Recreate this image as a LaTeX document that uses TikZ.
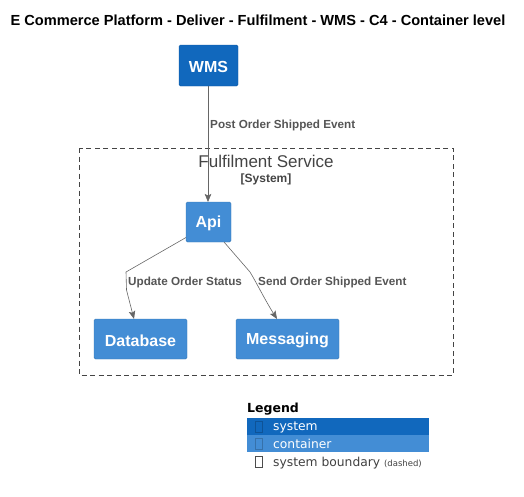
\documentclass[tikz,border=0pt]{standalone}
\usepackage{fontspec}
\setmainfont{Liberation Sans}
\newfontfamily\legfont{DejaVu Sans}
\usetikzlibrary{arrows.meta}
\definecolor{sysblue}{HTML}{1168BD}
\definecolor{contblue}{HTML}{438DD5}
\definecolor{edgegray}{HTML}{666666}
\definecolor{labgray}{HTML}{555555}
\definecolor{bndgray}{HTML}{444444}
\tikzset{
  sysbox/.style={fill=sysblue, draw=sysblue!85!black, line width=0.4pt, rounded corners=1.5pt},
  contbox/.style={fill=contblue, draw=contblue!85!black, line width=0.4pt, rounded corners=1.5pt},
  boxtext/.style={text=white, font=\bfseries\fontsize{16}{18}\selectfont, inner sep=0pt},
  rel/.style={draw=edgegray, line width=0.6pt, -{Stealth[length=8pt,width=6.5pt,inset=1.5pt]}},
  rellabel/.style={text=labgray, font=\bfseries\fontsize{11.7}{13}\selectfont, inner sep=0pt, anchor=west},
  legtext/.style={font=\legfont\fontsize{12.3}{14}\selectfont, inner sep=0pt, anchor=west},
}
\begin{document}
\begin{tikzpicture}[x=1pt,y=-1pt]
\useasboundingbox (0,0) rectangle (524,496);
% title
\node[font=\bfseries\fontsize{14.6}{16}\selectfont, inner sep=0pt] (title) at (258,20.5) {E Commerce Platform - Deliver - Fulfilment - WMS - C4 - Container level};
% boundary
\draw[bndgray, dashed, dash pattern=on 5pt off 3.5pt, line width=0.6pt] (79,148) rectangle (453,375);
\node[text=bndgray, font=\fontsize{17}{19}\selectfont, inner sep=0pt] (bname) at (266,161.5) {Fulfilment Service};
\node[text=bndgray, font=\bfseries\fontsize{12}{14}\selectfont, inner sep=0pt] (btype) at (266,179) {[System]};
% nodes
\path[sysbox] (179,45) rectangle (238,86);
\node[boxtext, minimum width=59pt, minimum height=41pt] (wms) at (208.5,67) {WMS};
\path[contbox] (186,202) rectangle (231,242);
\node[boxtext, minimum width=45pt, minimum height=40pt] (api) at (208.5,223.5) {Api};
\path[contbox] (94,319) rectangle (187,359);
\node[boxtext, minimum width=93pt, minimum height=40pt] (db) at (140.5,340.5) {Database};
\path[contbox] (236,319) rectangle (339,359);
\node[boxtext, minimum width=103pt, minimum height=40pt] (msg) at (287.5,340.5) {Messaging};
% edges
\coordinate (c1) at (126,272);
\coordinate (c2) at (126.5,290);
\coordinate (c3) at (250,272);
\coordinate (wmsb) at (208,86);
\coordinate (apit) at (208,202);
\coordinate (apil) at (186,237.5);
\coordinate (apir) at (224,242);
\draw[rel] (wmsb) -- (apit);
\draw[rel] (apil) -- (c1) -- (c2) -- (134,319);
\draw[rel] (apir) -- (c3) .. controls (255,280) and (265,300) .. (277,319);
\node[rellabel] (l1) at (210,125) {Post Order Shipped Event};
\node[rellabel] (l2) at (128,282) {Update Order Status};
\node[rellabel] (l3) at (258,282) {Send Order Shipped Event};
% legend
\node[font=\legfont\bfseries\fontsize{12.5}{14}\selectfont, inner sep=0pt, anchor=west] (leg) at (247,409.5) {Legend};
\fill[sysblue] (246.5,417.5) rectangle (428.5,434.5);
\fill[contblue] (246.5,434.5) rectangle (428.5,451.5);
\draw[sysblue!80!black, line width=0.4pt] (255,421) rectangle (262,432);
\draw[contblue!80!black, line width=0.4pt] (255,438) rectangle (262,449);
\draw[black!70, line width=0.4pt] (255,456) rectangle (262,467);
\node[legtext, text=white] (lsys) at (273,427) {system};
\node[legtext, text=white] (lcont) at (273,444) {container};
\node[legtext, text=black!75] (lbnd) at (273,463) {system boundary \fontsize{8.5}{10}\selectfont (dashed)};
\end{tikzpicture}
\end{document}
